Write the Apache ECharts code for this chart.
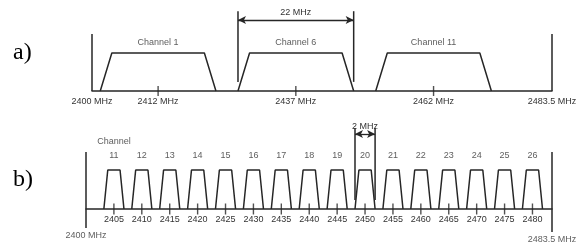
<!DOCTYPE html>
<html>
<head>
<meta charset="utf-8">
<script src="https://cdn.jsdelivr.net/npm/echarts@6/dist/echarts.min.js"></script>
<style>
  html, body { margin: 0; padding: 0; background: #fff; }
  #chart { width: 585px; height: 243px; }
</style>
</head>
<body>
<div id="chart"></div>
<script>
// band edges in MHz
var bandEdges = [2400, 2483.5];

// a) 802.11 channels
var wifiChannels = [1, 6, 11];
var wifiCenters = [2412, 2437, 2462];
var wifiTickLabels = [2400, 2412, 2437, 2462, 2483.5];
var wifiSpacing = ['22 MHz'];

// b) 802.15.4 channels
var zbChannels = [11, 12, 13, 14, 15, 16, 17, 18, 19, 20, 21, 22, 23, 24, 25, 26];
var zbCenters = [2405, 2410, 2415, 2420, 2425, 2430, 2435, 2440, 2445, 2450, 2455, 2460, 2465, 2470, 2475, 2480];
var zbSpacing = ['2 MHz'];

var ink = '#262626';
var txt = '#333';
var sans = '"Liberation Sans Narrow", "Liberation Sans", Arial, sans-serif';
var serif = '"Liberation Serif", "Times New Roman", serif';

// drawn half widths of the trapezoids (bottom, top), in axis units
var wifiShape = [10.5, 8.4];
var zbShape = [1.8, 1.1];

var series = [];

function trapezoid(c, shape, idx) {
    return {
        type: 'line', xAxisIndex: idx, yAxisIndex: idx, silent: true,
        symbol: 'none', animation: false,
        lineStyle: { color: ink, width: 1.5 },
        data: [[c - shape[0], 0], [c - shape[1], 1], [c + shape[1], 1], [c + shape[0], 0]]
    };
}

function vline(x, lo, hi, idx) {
    return {
        type: 'line', xAxisIndex: idx, yAxisIndex: idx, silent: true, clip: false,
        symbol: 'none', animation: false,
        lineStyle: { color: ink, width: 1.5 },
        data: [[x, lo], [x, hi]]
    };
}

function bracket(x1, x2, lo, hi, yArrow, text, idx, dist) {
    series.push(vline(x1, lo, hi, idx));
    series.push(vline(x2, lo, hi, idx));
    series.push({
        type: 'line', xAxisIndex: idx, yAxisIndex: idx, data: [], animation: false,
        markLine: {
            silent: true, animation: false,
            symbol: ['arrow', 'arrow'], symbolSize: [6, 8],
            lineStyle: { color: ink, width: 1.3, type: 'solid' },
            label: { show: true, position: 'insideMiddleTop', distance: dist, formatter: text,
                     color: txt, fontSize: 9, fontFamily: sans },
            data: [[{ coord: [x1, yArrow] }, { coord: [x2, yArrow] }]]
        }
    });
}

// ---- panel a ----
wifiCenters.forEach(function (c) { series.push(trapezoid(c, wifiShape, 0)); });
series.push({
    type: 'scatter', xAxisIndex: 0, yAxisIndex: 0, silent: true, animation: false,
    symbol: 'rect', symbolSize: [1.4, 10], itemStyle: { color: ink },
    data: wifiCenters.map(function (c) { return [c, 0]; })
});
series.push({
    type: 'scatter', xAxisIndex: 0, yAxisIndex: 0, silent: true, animation: false,
    symbolSize: 0,
    label: { show: true, position: 'top', distance: 6, color: txt, fontSize: 9, fontFamily: sans,
             formatter: function (p) { return 'Channel ' + wifiChannels[p.dataIndex]; } },
    data: wifiCenters.map(function (c) { return [c, 1]; })
});
series.push(vline(bandEdges[0], 0, 1.5, 0));
series.push(vline(bandEdges[1], 0, 1.5, 0));
bracket(wifiCenters[1] - wifiShape[0], wifiCenters[1] + wifiShape[0], 0.24, 2.1, 1.87, wifiSpacing[0], 0, 3);

// ---- panel b ----
zbCenters.forEach(function (c) { series.push(trapezoid(c, zbShape, 1)); });
series.push({
    type: 'scatter', xAxisIndex: 1, yAxisIndex: 1, silent: true, animation: false,
    symbol: 'rect', symbolSize: [1.4, 11], itemStyle: { color: ink },
    data: zbCenters.map(function (c) { return [c, 0]; })
});
series.push({
    type: 'scatter', xAxisIndex: 1, yAxisIndex: 1, silent: true, animation: false,
    symbolSize: 0,
    label: { show: true, position: 'top', distance: 7, color: txt, fontSize: 9, fontFamily: sans,
             lineHeight: 14,
             formatter: function (p) {
                 var ch = zbChannels[p.dataIndex];
                 return p.dataIndex === 0 ? 'Channel\n' + ch : '' + ch;
             } },
    data: zbCenters.map(function (c) { return [c, 1]; })
});
var edgeLow = [-0.49, -0.59];
series.push(vline(bandEdges[0], edgeLow[0], 1.46, 1));
series.push(vline(bandEdges[1], edgeLow[1], 1.46, 1));
series.push({
    type: 'scatter', xAxisIndex: 1, yAxisIndex: 1, silent: true, animation: false, clip: false,
    symbolSize: 0,
    label: { show: true, position: 'bottom', distance: 3, color: txt, fontSize: 9, fontFamily: sans,
             formatter: function (p) { return bandEdges[p.dataIndex] + ' MHz'; } },
    data: bandEdges.map(function (e, i) { return [e, edgeLow[i]]; })
});
bracket(zbCenters[9] - zbShape[0], zbCenters[9] + zbShape[0], 0.23, 2.08, 1.92, zbSpacing[0], 1, 3);

function xAxis(idx, ticks, fmt) {
    return {
        type: 'value', gridIndex: idx, min: bandEdges[0], max: bandEdges[1],
        splitLine: { show: false },
        axisTick: { show: false },
        axisLine: { lineStyle: { color: ink, width: 1.5 } },
        axisLabel: { customValues: ticks, formatter: fmt, margin: 6, hideOverlap: false,
                     color: txt, fontSize: 9, fontFamily: sans }
    };
}

var option = {
    backgroundColor: '#fff',
    animation: false,
    grid: [
        { left: 92, right: 33, top: 7.4, height: 83.6 },
        { left: 86, right: 33, top: 123.2, height: 85.8 }
    ],
    xAxis: [
        xAxis(0, wifiTickLabels, function (v) { return v + ' MHz'; }),
        xAxis(1, zbCenters, function (v) { return '' + v; })
    ],
    yAxis: [
        { type: 'value', gridIndex: 0, min: 0, max: 2.2, show: false },
        { type: 'value', gridIndex: 1, min: 0, max: 2.2, show: false }
    ],
    graphic: [
        { type: 'text', x: 13, y: 53, silent: true,
          style: { text: 'a)', fontSize: 24, fontFamily: serif, fill: '#000', verticalAlign: 'middle' } },
        { type: 'text', x: 13, y: 180, silent: true,
          style: { text: 'b)', fontSize: 24, fontFamily: serif, fill: '#000', verticalAlign: 'middle' } }
    ],
    series: series
};

var myChart = echarts.init(document.getElementById('chart'));
myChart.setOption(option);
</script>
</body>
</html>
